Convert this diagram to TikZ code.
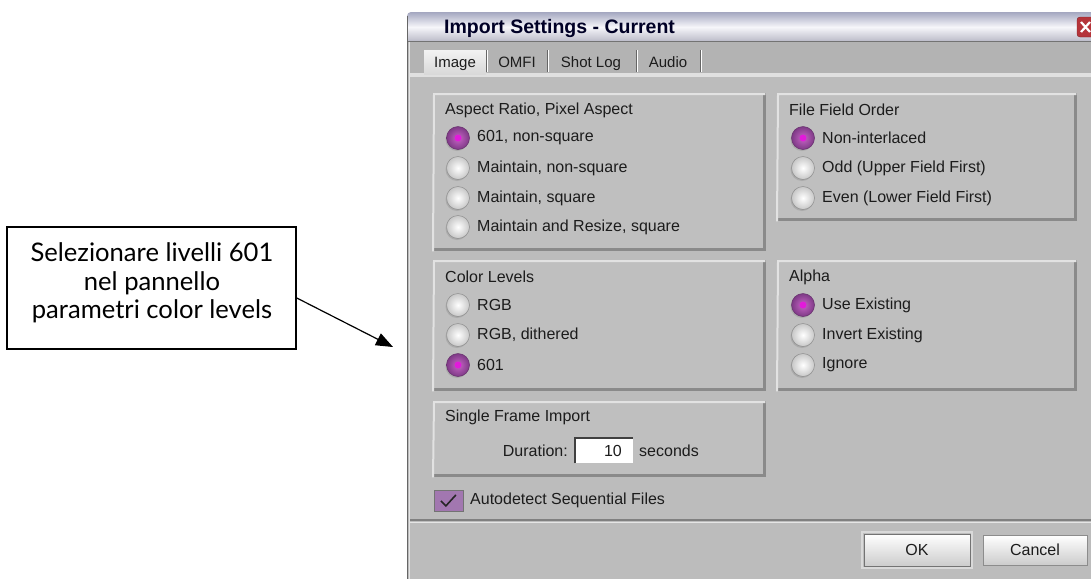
\documentclass[tikz,border=0pt]{standalone}
\usepackage{fontspec}
\setmainfont{Liberation Sans}
\newfontfamily\callfont{Lato}
\usetikzlibrary{arrows.meta,shadings}
\definecolor{bodybg}{HTML}{BCBCBC}
\definecolor{panelbg}{HTML}{BFBFBF}
\definecolor{panelhl}{HTML}{E2E2E2}
\definecolor{panelsh}{HTML}{8A8A8A}
\definecolor{tabrow}{HTML}{B3B3B3}
\definecolor{titletop}{HTML}{A4A7C0}
\definecolor{titlemid}{HTML}{F6F6FA}
\definecolor{titlebot}{HTML}{B8B8C6}
\definecolor{uitext}{HTML}{1C1C1C}
\definecolor{purpleout}{HTML}{7E3A86}
\definecolor{purplein}{HTML}{C765C6}
\definecolor{purpledot}{HTML}{E21BDA}
\definecolor{chkfill}{HTML}{A277B0}
\definecolor{closered}{HTML}{B5343A}
\tikzset{
  ui/.style={font=\fontsize{16}{18}\selectfont, text=uitext, inner sep=0pt, anchor=west},
  tabtxt/.style={font=\fontsize{15}{17}\selectfont, text=uitext, inner sep=0pt, anchor=base},
  panel/.style={rectangle, fill=panelbg, inner sep=0pt, anchor=north west},
  hl/.style={draw=panelhl, line width=2pt},
  sh/.style={draw=panelsh, line width=2.5pt},
  radshadow/.style={circle, minimum size=23pt, inner sep=0pt, fill=black!40, opacity=0.5},
  radoff/.style={circle, minimum size=23pt, inner sep=0pt, draw=black!45, line width=0.5pt, inner color=white, outer color=black!22},
  radon/.style={circle, minimum size=23pt, inner sep=0pt, draw=purpleout!80!black, line width=0.5pt, inner color=purplein, outer color=purpleout},
  raddot/.style={circle, minimum size=7pt, inner sep=0pt, fill=purpledot},
  btn/.style={rectangle, inner sep=0pt, top color=white, bottom color=black!20, draw=black!45, line width=0.8pt, font=\fontsize{16}{18}\selectfont, text=uitext},
  callout/.style={rectangle, draw=black, line width=1.6pt, fill=white, inner sep=0pt},
  calltxt/.style={inner sep=0pt, align=center, font=\callfont\fontsize{25.6}{28.5}\selectfont},
  arr/.style={draw=black, line width=1.2pt, -{Triangle[length=17pt,width=13pt]}}
}
\newcommand\radiooff[3]{\node[radshadow] (#1s) at ([xshift=-1pt,yshift=-1.5pt]#2) {}; \node[radoff] (#1) at (#2) {}; \node[ui] (#1t) at ([xshift=19pt]#1.center) {#3};}
\newcommand\radioon[3]{\node[radshadow] (#1s) at ([xshift=-1pt,yshift=-1.5pt]#2) {}; \node[radon] (#1) at (#2) {}; \node[raddot] (#1d) at (#1.center) {}; \node[ui] (#1t) at ([xshift=19pt]#1.center) {#3};}
\newcommand\panelbox[5]{% name, x, y, w, h
  \node[panel, minimum width=#4pt, minimum height=#5pt] (#1) at (#2,#3) {};
  \draw[sh] ([xshift=-1pt]#1.north east) -- ([xshift=-1pt,yshift=1pt]#1.south east) -- ([yshift=1pt]#1.south west);
  \draw[hl] ([yshift=-1pt]#1.south west) -- ([xshift=1pt,yshift=-1pt]#1.north west) -- ([yshift=-1pt]#1.north east);
}
\begin{document}
\begin{tikzpicture}[x=1pt,y=-1pt]
\useasboundingbox (0,0) rectangle (1091,579);
\fill[white] (0,0) rectangle (1091,579);
% dialog body
\fill[bodybg] (407,42) rectangle (1091,579);
% title bar
\shade[top color=titletop, bottom color=titlebot, middle color=titlemid, rounded corners=4pt] (407,12) rectangle (1100,42);
\draw[black!55, line width=1pt] (407,41.5) -- (1091,41.5);
\node[font=\bfseries\fontsize{19.5}{22}\selectfont, text=black!85!blue, inner sep=0pt, anchor=west] (title) at (444,28) {Import Settings - Current};
% close button
\node[rectangle, rounded corners=3pt, fill=closered, draw=closered!70!black, minimum width=18pt, minimum height=20pt, inner sep=0pt] (close) at (1086,27) {};
\draw[white, line width=2.2pt] ([xshift=-5pt,yshift=5pt]close.center) -- ([xshift=4pt,yshift=-5pt]close.center) ([xshift=-5pt,yshift=-5pt]close.center) -- ([xshift=4pt,yshift=5pt]close.center);
% left border
\draw[black!60, line width=1.5pt] (407.5,16) -- (407.5,579);
\draw[white!90!black, line width=1pt] (409.5,42) -- (409.5,579);
% tab row
\fill[tabrow] (410,42) rectangle (1091,73);
\fill[black!12] (410,73) rectangle (1091,77);
\shade[top color=white!95!black, bottom color=black!15] (424,50) rectangle (486,74);
\foreach \sx in {486,547,636,700}{
  \draw[black!60, line width=1pt] (\sx,50) -- (\sx,72);
  \draw[white, line width=1pt] (\sx+1.5,50) -- (\sx+1.5,72);
}
\node[tabtxt] (tabimage) at (455,67) {Image};
\node[tabtxt] (tabomfi) at (517,67) {OMFI};
\node[tabtxt] (tabshot) at (591,67) {Shot Log};
\node[tabtxt] (tabaudio) at (668,67) {Audio};
% panels
\panelbox{pA}{433}{93}{332}{157}
\panelbox{pF}{777}{93}{299}{127}
\panelbox{pC}{433}{260}{332}{130}
\panelbox{pAl}{777}{260}{299}{130}
\panelbox{pS}{433}{401}{332}{75}
% panel A
\node[ui] (tA) at (445,110) {Aspect Ratio, Pixel Aspect};
\radioon{rA1}{458,138}{601, non-square}
\radiooff{rA2}{458,168}{Maintain, non-square}
\radiooff{rA3}{458,198}{Maintain, square}
\radiooff{rA4}{458,227}{Maintain and Resize, square}
% panel F
\node[ui] (tF) at (789,110) {File Field Order};
\radioon{rF1}{803,138}{Non-interlaced}
\radiooff{rF2}{803,168}{Odd (Upper Field First)}
\radiooff{rF3}{803,198}{Even (Lower Field First)}
% panel C
\node[ui] (tC) at (445,277) {Color Levels};
\radiooff{rC1}{458,305}{RGB}
\radiooff{rC2}{458,335}{RGB, dithered}
\radioon{rC3}{458,365}{601}
% panel Alpha
\node[ui] (tAl) at (789,277) {Alpha};
\radioon{rL1}{803,305}{Use Existing}
\radiooff{rL2}{803,335}{Invert Existing}
\radiooff{rL3}{803,365}{Ignore}
% single frame import
\node[ui] (tS) at (445,417) {Single Frame Import};
\node[ui, anchor=east] (dur) at (568,451) {Duration:};
\node[rectangle, fill=white, minimum width=58pt, minimum height=25pt, inner sep=0pt, anchor=north west] (field) at (575,438) {};
\draw[black!75, line width=1.5pt] (field.south west) -- (field.north west) -- (field.north east);
\node[ui, anchor=east] (ten) at (622,451) {10};
\node[ui] (secs) at (639,451) {seconds};
% checkbox
\node[rectangle, fill=chkfill, draw=black!55, line width=0.8pt, minimum width=29pt, minimum height=21pt, inner sep=0pt, anchor=north west] (chk) at (434,490) {};
\draw[black!85, line width=1.6pt] ([xshift=-8pt,yshift=0pt]chk.center) -- ([xshift=-3pt,yshift=-5pt]chk.center) -- ([xshift=7pt,yshift=6pt]chk.center);
\node[ui] (chkt) at (470,500) {Autodetect Sequential Files};
% separator
\draw[black!50, line width=1.5pt] (410,520) -- (1091,520);
\draw[black!10, line width=1pt] (410,522) -- (1091,522);
% buttons
\node[rectangle, draw=black!15, line width=2pt, minimum width=110pt, minimum height=36pt, inner sep=0pt] (okouter) at (917,550) {};
\node[btn, minimum width=106pt, minimum height=32pt, draw=black!55] (ok) at (917,550) {OK};
\node[btn, minimum width=104pt, minimum height=30pt] (cancel) at (1035,550) {Cancel};
% callout
\node[callout, minimum width=289pt, minimum height=122pt] (call) at (151.5,288) {};
\node[calltxt] (calltext) at (152,283) {Selezionare livelli 601\\nel pannello\\parametri color levels};
\coordinate (tip) at (393,347);
\draw[arr] ([yshift=-10pt]call.east) -- (tip);
\end{tikzpicture}
\end{document}
